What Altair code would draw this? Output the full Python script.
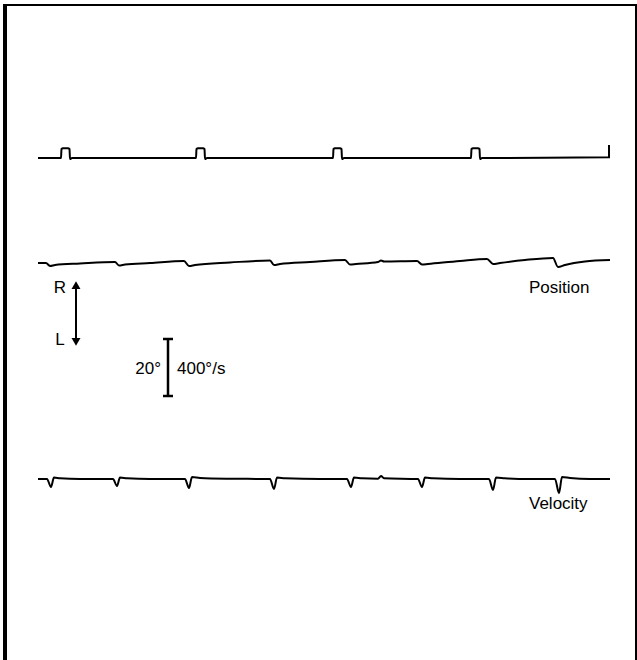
import altair as alt
import pandas as pd

# ---------------- data ----------------
# time in seconds, position in degrees, velocity in deg/s
stim_on = [0.46, 3.16, 5.90, 8.66]      # stimulus pulse onsets (s)
stim_width = 0.18                       # pulse duration (s)
stim_height = 3.5                       # pulse height (display units)
stim_end = 11.42
stim_end_tick = 4.6

pos_t = [0, 0.16, 0.24, 0.34, 0.84, 1.54, 1.62, 1.74, 2.24, 2.92, 3.02, 3.14,
         3.84, 4.64, 4.72, 4.84, 5.44, 6.14, 6.24, 6.36, 6.80, 6.86, 6.92, 7.58,
         7.68, 7.80, 8.44, 8.98, 9.10, 9.24, 9.74, 10.30, 10.40, 10.54, 10.94, 11.44]
pos_deg = [0, 0, -1.05, -0.70, -0.18, 0.35, -0.88, -0.53, 0, 0.70, -1.05, -0.70,
           0.18, 0.88, -0.70, -0.35, 0.35, 1.05, -0.53, -0.35, 0.35, 0.88, 0.53, 0.70,
           -0.53, -0.35, 0.70, 1.40, -0.35, 0, 1.05, 1.75, -1.40, -0.70, 0.53, 1.05]

vel_t = [0, 0.18, 0.26, 0.32, 0.44, 0.84, 1.50, 1.58, 1.64, 1.78, 2.24, 2.94, 3.02,
         3.08, 3.24, 3.84, 4.64, 4.72, 4.78, 4.94, 5.64, 6.18, 6.26, 6.32, 6.48, 6.80,
         6.86, 6.92, 7.60, 7.68, 7.74, 7.90, 8.44, 9.02, 9.10, 9.16, 9.34, 9.84, 10.34,
         10.42, 10.48, 10.64, 11.04, 11.44]
vel_dps = [0, 0, -56, 10, 5, 0, 0, -49, 10, 5, 0, 0, -63,
           14, 7, 2, 0, -70, 10, 5, 0, 0, -56, 10, 5, 2,
           21, 5, 0, -56, 10, 5, 0, 0, -77, 10, 5, 0, 0,
           -98, 14, 7, 0, 0]

# ---------------- layout constants ----------------
W, H = 637, 660
PX_PER_S = 50.0
PX_PER_UNIT = 2.85          # 20 deg == 57 px
T_START_PX = 38
STIM_BASE = 176.1
POS_BASE = 139.3
VEL_BASE = 63.5
VEL_SCALE = 20.0 / 400.0    # 400 deg/s drawn as tall as 20 deg

x_dom = [-T_START_PX / PX_PER_S, (W - T_START_PX) / PX_PER_S]
y_dom = [0, H / PX_PER_UNIT]

# stimulus path built from pulse list
stim_rows = [(0.0, 0.0)]
for on in stim_on:
    off = on + stim_width
    stim_rows += [(on, 0.0), (on + 0.01, stim_height - 0.3), (on + 0.04, stim_height),
                  (off - 0.04, stim_height), (off - 0.01, stim_height - 0.3),
                  (off, -0.3), (off + 0.04, 0.0)]
stim_rows += [(stim_end, 0.3), (stim_end, stim_end_tick)]

rows = []
for i, (t, v) in enumerate(stim_rows):
    rows.append({"trace": "stim", "i": i, "t": t, "v": STIM_BASE + v})
for i, (t, v) in enumerate(zip(pos_t, pos_deg)):
    rows.append({"trace": "pos", "i": i, "t": t, "v": POS_BASE + v})
for i, (t, v) in enumerate(zip(vel_t, vel_dps)):
    rows.append({"trace": "vel", "i": i, "t": t, "v": VEL_BASE + v * VEL_SCALE})
traces = pd.DataFrame(rows)

xs = alt.Scale(domain=x_dom, nice=False, zero=False)
ys = alt.Scale(domain=y_dom, nice=False, zero=False)
X = lambda f: alt.X(f, type="quantitative", scale=xs, axis=None)
Y = lambda f: alt.Y(f, type="quantitative", scale=ys, axis=None)

lines = alt.Chart(traces).mark_line(color="black", strokeWidth=2, interpolate="monotone").encode(
    x=X("t"), y=Y("v"), detail="trace:N", order="i:Q")

# scale bar: 20 deg / 400 deg/s
bar_t = (168 - T_START_PX) / PX_PER_S
bar_lo = (H - 396) / PX_PER_UNIT
bar_df = pd.DataFrame({"t": [bar_t], "v": [bar_lo], "v2": [bar_lo + 20]})
bar = alt.Chart(bar_df).mark_rule(color="black", strokeWidth=2.5).encode(
    x=X("t"), y=Y("v"), y2="v2")
caps_df = pd.DataFrame({"t": [bar_t - 0.1, bar_t - 0.1], "t2": [bar_t + 0.1, bar_t + 0.1],
                        "v": [bar_lo, bar_lo + 20]})
caps = alt.Chart(caps_df).mark_rule(color="black", strokeWidth=2.5).encode(
    x=X("t"), x2="t2", y=Y("v"))

# R/L double arrow
arr_t = (76 - T_START_PX) / PX_PER_S
arr_top = (H - 280) / PX_PER_UNIT
arr_bot = (H - 347) / PX_PER_UNIT
arr_df = pd.DataFrame({"t": [arr_t], "v": [arr_bot + 2], "v2": [arr_top - 2]})
arrow = alt.Chart(arr_df).mark_rule(color="black", strokeWidth=2).encode(
    x=X("t"), y=Y("v"), y2="v2")
heads_df = pd.DataFrame({"t": [arr_t, arr_t], "v": [arr_top - 1.8, arr_bot + 1.8],
                         "shape": ["triangle-up", "triangle-down"]})
heads = alt.Chart(heads_df).mark_point(filled=True, color="black", opacity=1, size=80).encode(
    x=X("t"), y=Y("v"),
    shape=alt.Shape("shape:N", scale=alt.Scale(domain=["triangle-up", "triangle-down"],
                                                 range=["triangle-up", "triangle-down"]), legend=None))

FONT = "Liberation Sans"
FS = 17
lab_left = pd.DataFrame({
    "text": ["Position", "Velocity", "400°/s"],
    "t": [(529 - T_START_PX) / PX_PER_S, (529 - T_START_PX) / PX_PER_S, (177 - T_START_PX) / PX_PER_S],
    "v": [(H - 293) / PX_PER_UNIT, (H - 509) / PX_PER_UNIT, (H - 374) / PX_PER_UNIT],
})
lab_right = pd.DataFrame({
    "text": ["20°"],
    "t": [(161 - T_START_PX) / PX_PER_S],
    "v": [(H - 374) / PX_PER_UNIT],
})
lab_center = pd.DataFrame({
    "text": ["R", "L"],
    "t": [(60 - T_START_PX) / PX_PER_S, (60 - T_START_PX) / PX_PER_S],
    "v": [(H - 293) / PX_PER_UNIT, (H - 345) / PX_PER_UNIT],
})
tl = alt.Chart(lab_left).mark_text(align="left", baseline="alphabetic", font=FONT, fontSize=FS,
                                    color="black").encode(x=X("t"), y=Y("v"), text="text:N")
tr = alt.Chart(lab_right).mark_text(align="right", baseline="alphabetic", font=FONT, fontSize=FS,
                                     color="black").encode(x=X("t"), y=Y("v"), text="text:N")
tc = alt.Chart(lab_center).mark_text(align="center", baseline="alphabetic", font=FONT, fontSize=FS,
                                      color="black").encode(x=X("t"), y=Y("v"), text="text:N")

# frame (top, left, right edges)
frame_top = alt.Chart(traces).mark_rule(color="black", strokeWidth=2).encode(
    x=alt.value(4), x2=alt.value(W), y=alt.value(5))
frame_left = alt.Chart(traces).mark_rule(color="black", strokeWidth=2.2).encode(
    x=alt.value(5), y=alt.value(4), y2=alt.value(H))
frame_right = alt.Chart(traces).mark_rule(color="black", strokeWidth=1.5).encode(
    x=alt.value(636), y=alt.value(4), y2=alt.value(H))

chart = alt.layer(lines, bar, caps, arrow, heads, tl, tr, tc, frame_top, frame_left, frame_right).properties(
    width=W, height=H, padding=0, autosize=alt.AutoSizeParams(type="none"),
    background="white"
).configure_view(stroke=None)

chart.save("out.html", embed_options={"renderer": "svg", "actions": False})
